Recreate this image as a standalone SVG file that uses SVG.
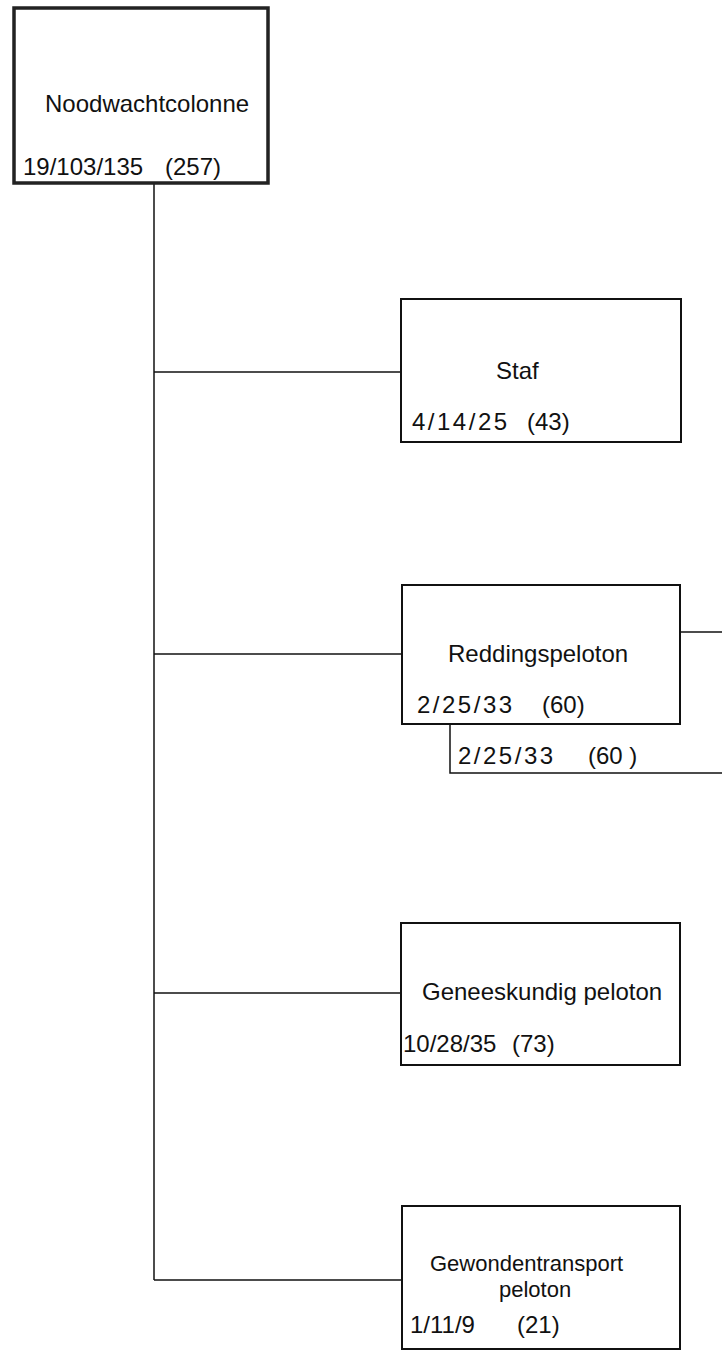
<svg xmlns="http://www.w3.org/2000/svg" width="722" height="1351" viewBox="0 0 722 1351">
<style>
  text { font-family: "Liberation Sans", Arial, sans-serif; font-size: 24px; fill: #111; }
  .tight { font-size: 22px; }
  .sp { letter-spacing: 2.5px; }
  .box { fill: #fff; stroke: #111; stroke-width: 2; }
  .top { fill: #fff; stroke: #222; stroke-width: 3.5; }
  .line { fill: none; stroke: #111; stroke-width: 1.5; }
</style>
<rect width="722" height="1351" fill="#fff"/>
<g id="connectors">
  <path class="line" d="M154 183 V1280"/>
  <path class="line" d="M154 372 H401"/>
  <path class="line" d="M154 654 H402"/>
  <path class="line" d="M154 993 H401"/>
  <path class="line" d="M154 1280 H402"/>
  <path class="line" d="M680 632 H722"/>
  <path class="line" d="M450 724 V773 H722"/>
</g>
<g id="noodwachtcolonne">
  <rect class="top" x="14" y="8" width="254" height="175"/>
  <text x="45" y="112">Noodwachtcolonne</text>
  <text x="23" y="175">19/103/135 <tspan x="165">(257)</tspan></text>
</g>
<g id="staf">
  <rect class="box" x="401" y="299" width="280" height="143"/>
  <text x="496" y="379">Staf</text>
  <text x="412" y="430"><tspan class="sp">4/14/25</tspan> <tspan x="527">(43)</tspan></text>
</g>
<g id="reddingspeloton">
  <rect class="box" x="402" y="585" width="278" height="139"/>
  <text x="448" y="662">Reddingspeloton</text>
  <text x="417" y="713"><tspan class="sp">2/25/33</tspan> <tspan x="542">(60)</tspan></text>
</g>
<g id="reddingspeloton-sub">
  <text x="458" y="764"><tspan class="sp">2/25/33</tspan> <tspan x="588">(60 )</tspan></text>
</g>
<g id="geneeskundig">
  <rect class="box" x="401" y="923" width="279" height="142"/>
  <text x="422" y="1000">Geneeskundig peloton</text>
  <text x="403" y="1052">10/28/35 <tspan x="512">(73)</tspan></text>
</g>
<g id="gewondentransport">
  <rect class="box" x="402" y="1206" width="278" height="143"/>
  <text class="tight" x="430" y="1271">Gewondentransport</text>
  <text class="tight" x="499" y="1297">peloton</text>
  <text x="410" y="1333">1/11/9 <tspan x="517">(21)</tspan></text>
</g>
</svg>
